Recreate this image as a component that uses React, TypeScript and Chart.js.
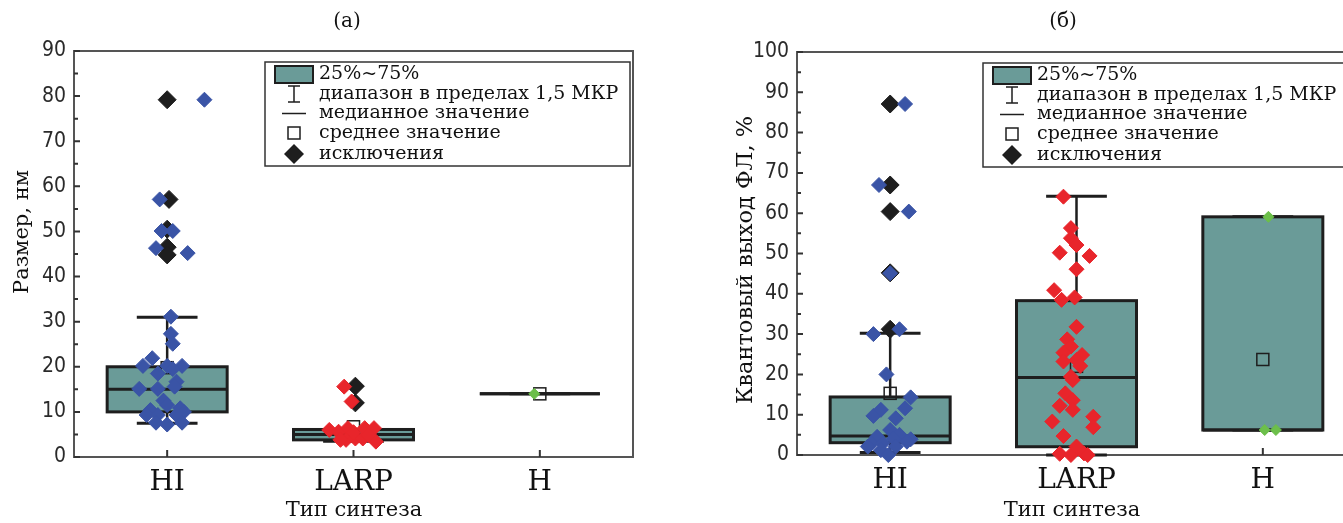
import React, { useEffect, useRef } from 'react';
import { Chart, registerables } from 'chart.js';

Chart.register(...registerables);

// ---------- shared ----------
const categories = ['HI', 'LARP', 'H'];
const xAxisTitle = 'Тип синтеза';
const legendLabels = ['25%~75%', 'диапазон в пределах 1,5 МКР', 'медианное значение', 'среднее значение', 'исключения'];

// ---------- panel (а): size ----------
const sizeTitle = '(а)';
const sizeAxisTitle = 'Размер, нм';
const sizeTicks = [0, 10, 20, 30, 40, 50, 60, 70, 80, 90];
const sizeQ1 = [10, 3.8, 14];
const sizeQ3 = [20, 6.1, 14];
const sizeMedian = [15, 5, 14];
const sizeWhiskerLow = [7.5, 3.5, 14];
const sizeWhiskerHigh = [31, 6.1, 14];
const sizeMean = [19.8, 6.7, 14];

const sizeHIValues = [79.2, 57.1, 50.1, 50.1, 46.3, 45.2, 31.1, 27.3, 25.1, 21.9, 20.2, 20.2, 20.2, 18.5, 19.5, 16.7, 15.6, 15.1, 15.1, 12.5, 11.5, 10.8, 10.4, 10.0, 9.3, 9.3, 9.3, 7.6, 7.2, 7.6];
const sizeHIJitter = [0.2, -0.04, -0.03, 0.03, -0.06, 0.11, 0.02, 0.02, 0.03, -0.08, -0.13, 0.0, 0.08, -0.05, 0.03, 0.05, 0.04, -0.15, -0.05, -0.02, 0.0, 0.07, -0.09, 0.09, -0.11, -0.05, 0.05, -0.06, 0.0, 0.08];
const sizeLARPValues = [15.6, 12.3, 6.0, 5.6, 6.4, 3.8, 4.1, 4.1, 6.4, 6.4, 3.4, 3.8, 4.9, 5.5];
const sizeLARPJitter = [-0.05, -0.01, -0.13, -0.08, -0.03, -0.04, 0.01, 0.05, 0.06, 0.11, 0.12, -0.07, 0.08, 0.0];
const sizeHValues = [14.0];
const sizeHJitter = [-0.03];
const sizeOutlierValues = [79.2, 57.1, 50.5, 46.5, 44.8, 15.7, 12.0];
const sizeOutlierCats = [0, 0, 0, 0, 0, 1, 1];
const sizeOutlierJitter = [0, 0.01, 0, 0, 0, 0.01, 0.01];

// ---------- panel (б): quantum yield ----------
const qyTitle = '(б)';
const qyAxisTitle = 'Квантовый выход ФЛ, %';
const qyTicks = [0, 10, 20, 30, 40, 50, 60, 70, 80, 90, 100];
const qyQ1 = [3.05, 2.05, 6.2];
const qyQ3 = [14.4, 38.3, 59.1];
const qyMedian = [4.7, 19.2, 6.2];
const qyWhiskerLow = [0.6, 0, 6.2];
const qyWhiskerHigh = [30.2, 64.2, 59.1];
const qyMean = [15.3, 22, 23.7];

const qyHIValues = [87.1, 67.0, 60.4, 45.1, 31.2, 30.0, 20.0, 14.3, 11.6, 11.2, 9.7, 9.1, 6.2, 5.0, 4.5, 4.1, 3.9, 3.3, 2.9, 2.9, 2.1, 2.1, 1.2, 0.0];
const qyHIJitter = [0.08, -0.06, 0.1, 0.0, 0.05, -0.09, -0.02, 0.11, 0.08, -0.05, -0.09, 0.03, 0.0, 0.05, -0.07, 0.02, 0.11, 0.09, -0.1, -0.04, 0.03, -0.12, -0.05, -0.01];
const qyLARPValues = [64.1, 56.3, 53.8, 52.1, 50.2, 49.4, 46.1, 40.9, 38.5, 39.1, 31.8, 28.7, 26.9, 25.4, 24.8, 23.6, 23.2, 22.1, 19.4, 18.6, 15.3, 13.6, 12.2, 11.2, 8.3, 9.5, 6.9, 4.7, 0.3, 0.0, 2.1, 0.4, 0.0];
const qyLARPJitter = [-0.07, -0.03, -0.03, 0.0, -0.09, 0.07, 0.0, -0.12, -0.08, -0.01, 0.0, -0.05, -0.03, -0.07, 0.03, 0.0, -0.07, 0.02, -0.03, -0.02, -0.06, -0.02, -0.09, -0.02, -0.13, 0.09, 0.09, -0.07, -0.09, -0.03, 0.0, 0.04, 0.06];
const qyHValues = [59.1, 6.2, 6.2];
const qyHJitter = [0.03, 0.01, 0.07];
const qyOutlierValues = [87.1, 67.0, 60.4, 45.2, 31.2];
const qyOutlierCats = [0, 0, 0, 0, 0];
const qyOutlierJitter = [0, 0, 0, 0, 0];

// ---------- styles ----------
const H = 523;
const TEAL = '#6a9b98';
const INK = '#1e1e1e';
const TEXT = '#111111';
const BLUE = '#3a54a6';
const RED = '#e8252b';
const GREEN = '#6cbf4a';
const SERIF = '"DejaVu Serif", "Liberation Serif", serif';
const NARROW = '"Liberation Sans Narrow", "DejaVu Sans Condensed", "Arial Narrow", sans-serif';
const BOX_HALF = 0.322;
const CAP_HALF = 0.163;

const sizePanel = {
  left: 0, width: 694,
  area: { left: 74, top: 51, right: 633, bottom: 457 },
  yMax: 90, ticks: sizeTicks,
  title: sizeTitle, titlePos: [347, 22],
  yTitle: sizeAxisTitle, yTitlePos: [23, 232], yTitleSize: 21,
  xTitlePos: [354, 511],
  legendOffset: 191,
  stats: { q1: sizeQ1, q3: sizeQ3, med: sizeMedian, lo: sizeWhiskerLow, hi: sizeWhiskerHigh, mean: sizeMean },
  groups: [
    { values: sizeHIValues, jitter: sizeHIJitter, cat: 0, color: BLUE },
    { values: sizeLARPValues, jitter: sizeLARPJitter, cat: 1, color: RED },
    { values: sizeHValues, jitter: sizeHJitter, cat: 2, color: GREEN, small: true },
  ],
  outliers: { values: sizeOutlierValues, cats: sizeOutlierCats, jitter: sizeOutlierJitter },
};

const qyPanel = {
  left: 680, width: 700,
  area: { left: 117, top: 52, right: 676, bottom: 455 },
  yMax: 100, ticks: qyTicks,
  title: qyTitle, titlePos: [383, 22],
  yTitle: qyAxisTitle, yTitlePos: [66, 260], yTitleSize: 22.5,
  xTitlePos: [392, 511],
  legendOffset: 186,
  stats: { q1: qyQ1, q3: qyQ3, med: qyMedian, lo: qyWhiskerLow, hi: qyWhiskerHigh, mean: qyMean },
  groups: [
    { values: qyHIValues, jitter: qyHIJitter, cat: 0, color: BLUE },
    { values: qyLARPValues, jitter: qyLARPJitter, cat: 1, color: RED },
    { values: qyHValues, jitter: qyHJitter, cat: 2, color: GREEN, small: true },
  ],
  outliers: { values: qyOutlierValues, cats: qyOutlierCats, jitter: qyOutlierJitter },
};

function makeDecorPlugin(p: any) {
  return {
    id: 'panelDecor',
    beforeDatasetsDraw(chart: any) {
      const { ctx, chartArea: a } = chart;
      const x = chart.scales.x;
      const y = chart.scales.y;
      const s = p.stats;
      ctx.save();
      // frame
      ctx.strokeStyle = '#555';
      ctx.lineWidth = 2;
      ctx.strokeRect(a.left, a.top, a.right - a.left, a.bottom - a.top);
      // inward ticks
      ctx.strokeStyle = '#333';
      ctx.beginPath();
      const step = p.ticks[1] - p.ticks[0];
      p.ticks.forEach((v: number) => {
        const py = y.getPixelForValue(v);
        ctx.moveTo(a.left, py);
        ctx.lineTo(a.left + 6, py);
        if (v + step / 2 < p.yMax) {
          const pm = y.getPixelForValue(v + step / 2);
          ctx.moveTo(a.left, pm);
          ctx.lineTo(a.left + 4, pm);
        }
      });
      categories.forEach((_, i) => {
        const px = x.getPixelForValue(i);
        ctx.moveTo(px, a.bottom);
        ctx.lineTo(px, a.bottom - 7);
      });
      ctx.stroke();
      // boxes
      ctx.strokeStyle = INK;
      for (let i = 0; i < categories.length; i++) {
        const cx = x.getPixelForValue(i);
        const xl = x.getPixelForValue(i - BOX_HALF);
        const xr = x.getPixelForValue(i + BOX_HALF);
        const cl = x.getPixelForValue(i - CAP_HALF);
        const cr = x.getPixelForValue(i + CAP_HALF);
        const yq1 = y.getPixelForValue(s.q1[i]);
        const yq3 = y.getPixelForValue(s.q3[i]);
        const ymed = y.getPixelForValue(s.med[i]);
        const ylo = y.getPixelForValue(s.lo[i]);
        const yhi = y.getPixelForValue(s.hi[i]);
        const ymean = y.getPixelForValue(s.mean[i]);
        ctx.lineWidth = 2.5;
        ctx.beginPath();
        ctx.moveTo(cx, ylo); ctx.lineTo(cx, yq1);
        ctx.moveTo(cx, yq3); ctx.lineTo(cx, yhi);
        ctx.stroke();
        ctx.lineWidth = 3;
        ctx.beginPath();
        ctx.moveTo(cl, ylo); ctx.lineTo(cr, ylo);
        ctx.moveTo(cl, yhi); ctx.lineTo(cr, yhi);
        ctx.stroke();
        ctx.fillStyle = TEAL;
        ctx.fillRect(xl, yq3, xr - xl, yq1 - yq3);
        ctx.strokeRect(xl, yq3, xr - xl, yq1 - yq3);
        ctx.beginPath();
        ctx.moveTo(xl, ymed); ctx.lineTo(xr, ymed);
        ctx.stroke();
        ctx.lineWidth = 1.5;
        ctx.strokeRect(cx - 6, ymean - 6, 12, 12);
      }
      ctx.restore();
    },
    afterDraw(chart: any) {
      const { ctx, chartArea: a } = chart;
      ctx.save();
      // titles
      ctx.fillStyle = TEXT;
      ctx.textAlign = 'center';
      ctx.textBaseline = 'middle';
      ctx.font = `20px ${SERIF}`;
      ctx.fillText(p.title, p.titlePos[0], p.titlePos[1]);
      ctx.font = `21px ${SERIF}`;
      ctx.fillText(xAxisTitle, p.xTitlePos[0], p.xTitlePos[1]);
      ctx.save();
      ctx.font = `${p.yTitleSize}px ${SERIF}`;
      ctx.translate(p.yTitlePos[0], p.yTitlePos[1]);
      ctx.rotate(-Math.PI / 2);
      ctx.fillText(p.yTitle, 0, 0);
      ctx.restore();
      // legend
      const lx = a.left + p.legendOffset;
      const ly = a.top + 11;
      const lw = a.right - 3 - lx;
      const lh = 104;
      ctx.fillStyle = '#fff';
      ctx.fillRect(lx, ly, lw, lh);
      ctx.strokeStyle = '#333';
      ctx.lineWidth = 1.5;
      ctx.strokeRect(lx, ly, lw, lh);
      const ix = lx + 29;
      const rows = [12, 32, 51, 71, 92];
      // icon 1: box
      ctx.fillStyle = TEAL;
      ctx.fillRect(lx + 10, ly + 4, 38, 17);
      ctx.strokeStyle = INK;
      ctx.lineWidth = 2;
      ctx.strokeRect(lx + 10, ly + 4, 38, 17);
      // icon 2: whisker
      ctx.lineWidth = 1.5;
      ctx.beginPath();
      ctx.moveTo(ix, ly + rows[1] - 8); ctx.lineTo(ix, ly + rows[1] + 8);
      ctx.moveTo(ix - 6, ly + rows[1] - 8); ctx.lineTo(ix + 6, ly + rows[1] - 8);
      ctx.moveTo(ix - 6, ly + rows[1] + 8); ctx.lineTo(ix + 6, ly + rows[1] + 8);
      ctx.stroke();
      // icon 3: median
      ctx.beginPath();
      ctx.moveTo(ix - 12, ly + rows[2] + 0.5); ctx.lineTo(ix + 12, ly + rows[2] + 0.5);
      ctx.stroke();
      // icon 4: mean square
      ctx.strokeRect(ix - 6, ly + rows[3] - 6, 12, 12);
      // icon 5: diamond
      ctx.fillStyle = INK;
      ctx.beginPath();
      ctx.moveTo(ix, ly + rows[4] - 10);
      ctx.lineTo(ix + 10, ly + rows[4]);
      ctx.lineTo(ix, ly + rows[4] + 10);
      ctx.lineTo(ix - 10, ly + rows[4]);
      ctx.closePath();
      ctx.fill();
      // texts
      ctx.fillStyle = TEXT;
      ctx.textAlign = 'left';
      ctx.font = `19px ${SERIF}`;
      legendLabels.forEach((t, k) => ctx.fillText(t, lx + 54, ly + rows[k]));
      ctx.restore();
    },
  };
}

function buildConfig(p: any) {
  const datasets: any[] = p.groups.map((g: any) => ({
    data: g.values.map((v: number, k: number) => ({ x: g.cat + g.jitter[k], y: v })),
    pointStyle: 'rectRot',
    pointRadius: g.small ? 5.5 : 7.5,
    backgroundColor: g.color,
    borderColor: g.color,
    borderWidth: 1,
    showLine: false,
    clip: false,
    order: 0,
  }));
  datasets.push({
    data: p.outliers.values.map((v: number, k: number) => ({ x: p.outliers.cats[k] + p.outliers.jitter[k], y: v })),
    pointStyle: 'rectRot',
    pointRadius: 9,
    backgroundColor: INK,
    borderColor: INK,
    borderWidth: 1,
    showLine: false,
    clip: false,
    order: 1,
  });
  return {
    type: 'scatter',
    data: { datasets },
    options: {
      animation: false,
      responsive: false,
      events: [],
      layout: { padding: { left: 0, top: p.area.top, right: p.width - p.area.right, bottom: 0 } },
      plugins: { legend: { display: false }, tooltip: { enabled: false }, title: { display: false } },
      scales: {
        x: {
          type: 'linear',
          min: -0.5,
          max: 2.5,
          grid: { display: false, drawTicks: false },
          border: { display: false },
          afterBuildTicks: (s: any) => { s.ticks = categories.map((_, i) => ({ value: i })); },
          afterFit: (s: any) => { s.height = H - p.area.bottom; },
          ticks: {
            callback: (v: any) => categories[Math.round(v)],
            font: { family: SERIF, size: 28 },
            color: TEXT,
            padding: 9,
            maxRotation: 0,
            autoSkip: false,
          },
        },
        y: {
          type: 'linear',
          min: 0,
          max: p.yMax,
          grid: { display: false, drawTicks: false },
          border: { display: false },
          afterBuildTicks: (s: any) => { s.ticks = p.ticks.map((v: number) => ({ value: v })); },
          afterFit: (s: any) => { s.width = p.area.left; },
          ticks: {
            font: { family: NARROW, size: 21 },
            color: '#2a2a2a',
            padding: 8,
          },
        },
      },
    },
    plugins: [makeDecorPlugin(p)],
  };
}

function Panel({ cfg }: { cfg: any }) {
  const ref = useRef<HTMLCanvasElement | null>(null);
  useEffect(() => {
    const chart = new Chart(ref.current as HTMLCanvasElement, buildConfig(cfg) as any);
    return () => chart.destroy();
  }, [cfg]);
  return (
    <canvas
      ref={ref}
      width={cfg.width}
      height={H}
      style={{ position: 'absolute', left: cfg.left, top: 0, width: cfg.width, height: H }}
    />
  );
}

export default function App() {
  return (
    <div style={{ position: 'fixed', left: 0, top: 0, width: 1343, height: 523, overflow: 'hidden', background: '#fff' }}>
      <Panel cfg={sizePanel} />
      <Panel cfg={qyPanel} />
    </div>
  );
}
